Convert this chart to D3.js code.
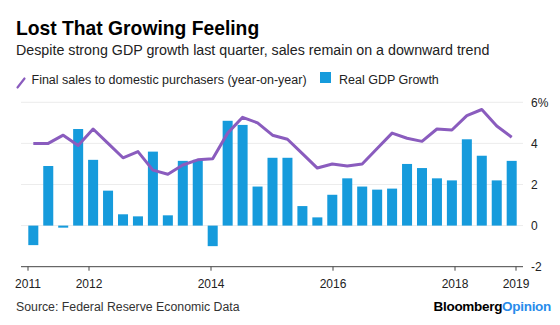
<!DOCTYPE html>
<html>
<head>
<meta charset="utf-8">
<script src="https://cdn.jsdelivr.net/npm/d3@7"></script>
<style>
  body { margin: 0; background: #fff; }
  svg { display: block; font-family: "Liberation Sans", Arial, sans-serif; }
</style>
</head>
<body>
<svg id="chart" width="560" height="325"></svg>
<script>
// quarterly data, 2011 Q1 .. 2019 Q1
var quarters = ["2011Q1","2011Q2","2011Q3","2011Q4","2012Q1","2012Q2","2012Q3","2012Q4",
    "2013Q1","2013Q2","2013Q3","2013Q4","2014Q1","2014Q2","2014Q3","2014Q4",
    "2015Q1","2015Q2","2015Q3","2015Q4","2016Q1","2016Q2","2016Q3","2016Q4",
    "2017Q1","2017Q2","2017Q3","2017Q4","2018Q1","2018Q2","2018Q3","2018Q4","2019Q1"];
var gdp_growth = [-0.95, 2.9, -0.1, 4.7, 3.2, 1.7, 0.55, 0.45, 3.6, 0.5, 3.15, 3.2,
    -1.0, 5.1, 4.9, 1.9, 3.3, 3.3, 0.95, 0.4, 1.5, 2.3, 1.9, 1.75,
    1.8, 3.0, 2.8, 2.3, 2.2, 4.2, 3.4, 2.2, 3.15];
var final_sales = [4.0, 4.0, 4.4, 3.9, 4.7, 4.0, 3.3, 3.6, 2.7, 2.5, 2.95, 3.2,
    3.25, 4.5, 5.27, 5.0, 4.4, 4.2, 3.5, 2.8, 3.0, 2.9, 3.0, 3.75,
    4.5, 4.25, 4.1, 4.7, 4.65, 5.35, 5.65, 4.85, 4.3];
var year_ticks = [2011, 2012, 2014, 2016, 2018, 2019];
var y_ticks = [-2, 0, 2, 4, 6];

var svg = d3.select('#chart');

var blue = 'rgb(22, 155, 220)';
var purple = 'rgb(138, 92, 190)';

// scales
var x_year = d3.scaleLinear().domain([2011, 2019]).range([28, 516]);
var x = d3.scaleBand().domain(quarters).range([28.3, 516.7]).paddingInner(0.33).paddingOuter(0);
var y = d3.scaleLinear().domain([-2, 6]).range([266.7, 102.3]);

// title block
svg.append('text').attr('x', 16).attr('y', 35)
    .style('font-size', '19.3px').style('font-weight', 'bold').style('fill', '#000')
    .text('Lost That Growing Feeling');
svg.append('text').attr('x', 16).attr('y', 55)
    .style('font-size', '14.25px').style('fill', '#222')
    .text('Despite strong GDP growth last quarter, sales remain on a downward trend');

// legend
svg.append('line').attr('x1', 17.5).attr('y1', 87.5).attr('x2', 24.5).attr('y2', 78.5)
    .style('stroke', purple).style('stroke-width', 2.2).style('stroke-linecap', 'round');
svg.append('text').attr('x', 31.5).attr('y', 83.5)
    .style('font-size', '12.5px').style('fill', '#222')
    .text('Final sales to domestic purchasers (year-on-year)');
svg.append('rect').attr('x', 320).attr('y', 72).attr('width', 11).attr('height', 11)
    .style('fill', blue);
svg.append('text').attr('x', 339).attr('y', 83.5)
    .style('font-size', '12.5px').style('fill', '#222')
    .text('Real GDP Growth');

// gridlines
svg.append('g').selectAll('line')
    .data(y_ticks.filter(function(d) { return d > -2; }))
    .join('line')
    .attr('x1', 21).attr('x2', 523)
    .attr('y1', function(d) { return y(d); }).attr('y2', function(d) { return y(d); })
    .style('stroke', '#ececec').style('stroke-width', 1);

// y labels on the right
svg.append('g').selectAll('text')
    .data(y_ticks)
    .join('text')
    .attr('x', 531)
    .attr('y', function(d) { return y(d); })
    .attr('dy', '0.35em')
    .style('font-size', '12px').style('fill', '#222')
    .text(function(d) { return d === 6 ? '6%' : d; });

// bars
svg.append('g').selectAll('rect')
    .data(gdp_growth)
    .join('rect')
    .attr('x', function(d, i) { return x(quarters[i]); })
    .attr('width', x.bandwidth())
    .attr('y', function(d) { return y(Math.max(0, d)); })
    .attr('height', function(d) { return Math.abs(y(d) - y(0)); })
    .style('fill', blue);

// line
var line = d3.line()
    .x(function(d, i) { return x(quarters[i]) + x.bandwidth() / 2; })
    .y(function(d) { return y(d); });
svg.append('path').datum(final_sales)
    .attr('d', line)
    .style('fill', 'none').style('stroke', purple)
    .style('stroke-width', 3).style('stroke-linejoin', 'round');

// x axis
var xaxis = svg.append('g').attr('transform', 'translate(0,' + y(-2) + ')');
xaxis.append('line').attr('x1', 21).attr('x2', 523)
    .style('stroke', '#444').style('stroke-width', 1);
xaxis.selectAll('line.tick')
    .data(year_ticks)
    .join('line').attr('class', 'tick')
    .attr('x1', function(d) { return x_year(d); }).attr('x2', function(d) { return x_year(d); })
    .attr('y1', 0).attr('y2', 4)
    .style('stroke', '#444');
xaxis.selectAll('text')
    .data(year_ticks)
    .join('text')
    .attr('x', function(d) { return x_year(d); })
    .attr('y', 21)
    .attr('text-anchor', 'middle')
    .style('font-size', '12px').style('fill', '#222')
    .text(function(d) { return d; });

// footer
svg.append('text').attr('x', 16).attr('y', 311)
    .style('font-size', '12.3px').style('fill', '#333')
    .text('Source: Federal Reserve Economic Data');
var logo = svg.append('text').attr('x', 551).attr('y', 311)
    .attr('text-anchor', 'end')
    .style('font-size', '13.5px').style('font-weight', 'bold').style('letter-spacing', '-0.3px');
logo.append('tspan').style('fill', '#000').text('Bloomberg');
logo.append('tspan').style('fill', 'rgb(40, 140, 235)').text('Opinion');
</script>
</body>
</html>
